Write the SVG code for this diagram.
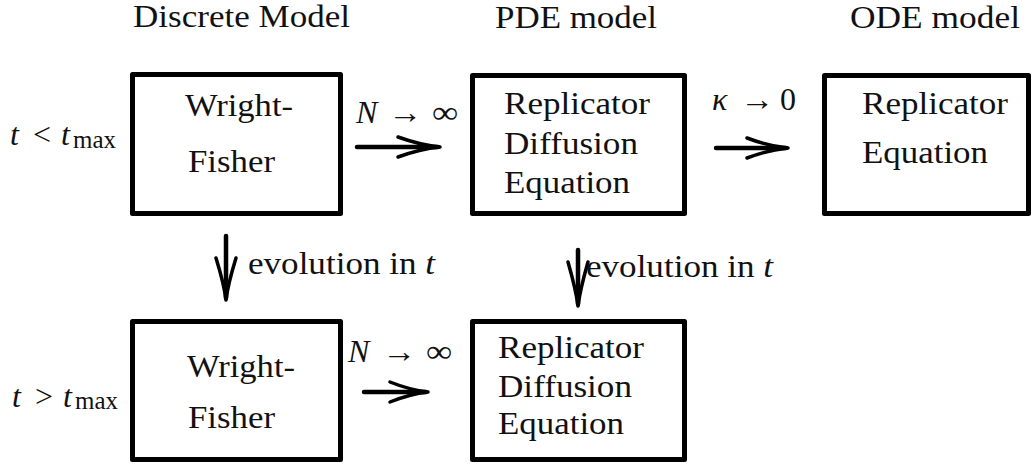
<svg xmlns="http://www.w3.org/2000/svg" width="1033" height="468" viewBox="0 0 1033 468" font-family="'Liberation Serif', 'DejaVu Serif', serif">
<style>
text{font-family:'Liberation Serif','DejaVu Serif',serif;font-size:32px;fill:#111}
.i{font-style:italic}
.sub{font-size:25px}
.box{fill:#fff;stroke:#000;stroke-width:5;stroke-linejoin:round}
.ar{fill:none;stroke:#000;stroke-width:4.5;stroke-linecap:round;stroke-linejoin:round}
.hd{fill:none;stroke:#000;stroke-width:3.5;stroke-linecap:round;stroke-linejoin:round}
</style>
<g id="headers">
<text x="133" y="27" textLength="217" lengthAdjust="spacingAndGlyphs">Discrete Model</text>
<text x="495" y="28" textLength="162" lengthAdjust="spacingAndGlyphs">PDE model</text>
<text x="850" y="28" textLength="170" lengthAdjust="spacingAndGlyphs">ODE model</text>
</g>
<g id="time-labels">
<text class="i" x="10" y="145">t</text><text x="33" y="145">&lt;</text><text class="i" x="61" y="145">t</text><text class="sub" x="73" y="148">max</text>
<text class="i" x="12" y="407">t</text><text x="35" y="407">&gt;</text><text class="i" x="63" y="407">t</text><text class="sub" x="75" y="409">max</text>
</g>
<g id="wf-top">
<rect class="box" x="132.5" y="74.5" width="208" height="139"/>
<text x="185" y="116" textLength="108" lengthAdjust="spacingAndGlyphs">Wright-</text>
<text x="188" y="172" textLength="87" lengthAdjust="spacingAndGlyphs">Fisher</text>
</g>
<g id="rde-top">
<rect class="box" x="472.5" y="75.5" width="212" height="138"/>
<text x="504" y="114" textLength="146" lengthAdjust="spacingAndGlyphs">Replicator</text>
<text x="504" y="154" textLength="134" lengthAdjust="spacingAndGlyphs">Diffusion</text>
<text x="504" y="193" textLength="126" lengthAdjust="spacingAndGlyphs">Equation</text>
</g>
<g id="ode-top">
<rect class="box" x="824.5" y="75.5" width="204" height="138"/>
<text x="862" y="114" textLength="146" lengthAdjust="spacingAndGlyphs">Replicator</text>
<text x="862" y="163" textLength="126" lengthAdjust="spacingAndGlyphs">Equation</text>
</g>
<g id="wf-bottom">
<rect class="box" x="132.5" y="321.5" width="208" height="138"/>
<text x="187" y="377" textLength="108" lengthAdjust="spacingAndGlyphs">Wright-</text>
<text x="188" y="428" textLength="87" lengthAdjust="spacingAndGlyphs">Fisher</text>
</g>
<g id="rde-bottom">
<rect class="box" x="472.5" y="321.5" width="212" height="138"/>
<text x="498" y="358" textLength="146" lengthAdjust="spacingAndGlyphs">Replicator</text>
<text x="498" y="397" textLength="134" lengthAdjust="spacingAndGlyphs">Diffusion</text>
<text x="498" y="434" textLength="126" lengthAdjust="spacingAndGlyphs">Equation</text>
</g>
<g id="connectors">
<path class="ar" d="M357 147 H438"/>
<path class="hd" d="M398 137 Q420 145 440 147 Q420 149 398 157"/>
<path class="ar" d="M716 148 H786"/>
<path class="hd" d="M747 138 Q768 146 788 148 Q768 150 747 158"/>
<path class="ar" d="M364 392 H426"/>
<path class="hd" d="M390 382 Q410 390 428 392 Q410 394 390 402"/>
<path class="ar" d="M226 236 V298"/>
<path class="hd" d="M216 258 Q224 284 226 300 Q228 284 236 258"/>
<path class="ar" d="M578 250 V304"/>
<path class="hd" d="M568 262 Q576 290 578 306 Q580 290 588 262"/>
</g>
<g id="connector-labels">
<text class="i" x="356" y="123">N</text><text x="388" y="123" textLength="34" lengthAdjust="spacingAndGlyphs">→</text><text x="432" y="123" textLength="26" lengthAdjust="spacingAndGlyphs">∞</text>
<text class="i" x="712" y="110">κ</text><text x="740" y="110" textLength="34" lengthAdjust="spacingAndGlyphs">→</text><text x="780" y="110">0</text>
<text class="i" x="348" y="362">N</text><text x="382" y="362" textLength="34" lengthAdjust="spacingAndGlyphs">→</text><text x="426" y="362" textLength="26" lengthAdjust="spacingAndGlyphs">∞</text>
<text x="248" y="274" textLength="187" lengthAdjust="spacingAndGlyphs">evolution in <tspan class="i">t</tspan></text>
<text x="586" y="277" textLength="187" lengthAdjust="spacingAndGlyphs">evolution in <tspan class="i">t</tspan></text>
</g>
</svg>
